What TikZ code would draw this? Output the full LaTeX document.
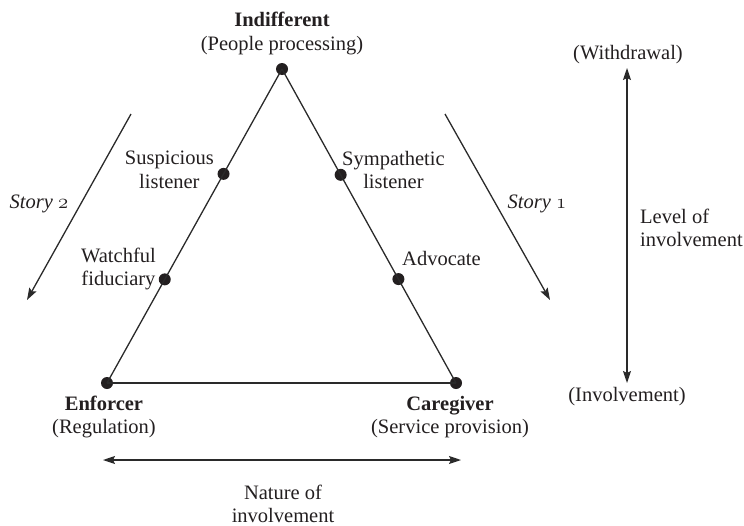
\documentclass[tikz,border=0pt]{standalone}
\usepackage{fontspec}
\setmainfont{Liberation Serif}
\usetikzlibrary{calc,arrows.meta}
\definecolor{ink}{HTML}{231F20}
\definecolor{linegray}{HTML}{2A2A2A}
% old-style figures taken from the math italic font
\newcommand{\osnum}[1]{{\usefont{OML}{cmm}{m}{it}#1}}
\begin{document}
\begin{tikzpicture}[x=1pt,y=-1pt,
  txt/.style={inner sep=0pt,align=center,text=ink,font=\fontsize{20.5}{23.5}\selectfont},
  dot/.style={circle,fill=ink,draw=none,minimum size=12pt,inner sep=0pt},
  edge/.style={draw=linegray,line width=1.3pt},
  arr/.style={draw=linegray,line width=1.3pt,-{Stealth[length=12pt,width=8pt,inset=2pt]}},
  dblarr/.style={draw=linegray,line width=1.3pt,{Stealth[length=12pt,width=8pt,inset=2pt]}-{Stealth[length=12pt,width=8pt,inset=2pt]}}]
\useasboundingbox (0,0) rectangle (744,525);

% corners of the triangle
\node[dot] (top) at (282,69) {};
\node[dot] (enf) at (107,383) {};
\node[dot] (care) at (456,383) {};

% intermediate roles on the two sides
\node[dot] (susp) at ($(top)!0.334!(enf)$) {};
\node[dot] (watch) at ($(top)!0.67!(enf)$) {};
\node[dot] (symp) at ($(top)!0.337!(care)$) {};
\node[dot] (advo) at ($(top)!0.669!(care)$) {};

% sides of the triangle
\draw[edge] (top.center) -- (susp.center) -- (watch.center) -- (enf.center);
\draw[edge] (top.center) -- (symp.center) -- (advo.center) -- (care.center);
\draw[edge] (enf.center) -- (care.center);

% labels of the roles
\node[txt] (ltop) at (282,33.5) {\textbf{Indifferent}\\(People processing)};
\node[txt,anchor=east] (lsusp) at (214,170) {Suspicious\\listener};
\node[txt,anchor=east] (lwatch) at (156,269) {Watchful\\fiduciary};
\node[txt,anchor=west] (lsymp) at (342,170) {Sympathetic\\listener};
\node[txt,anchor=west] (ladvo) at (402,258) {Advocate};
\node[txt] (lenf) at (104,417) {\textbf{Enforcer}\\(Regulation)};
\node[txt] (lcare) at (450,417) {\textbf{Caregiver}\\(Service provision)};

% the two stories
\coordinate (s2a) at (131,114);
\coordinate (s2b) at (27,300);
\draw[arr] (s2a) -- (s2b);
\node[txt] (lstory2) at (39,204) {\textit{Story \osnum{2}}};
\coordinate (s1a) at (445,114);
\coordinate (s1b) at (550,300);
\draw[arr] (s1a) -- (s1b);
\node[txt] (lstory1) at (537,204) {\textit{Story \osnum{1}}};

% level of involvement
\node[txt] (lwith) at (628,55) {(Withdrawal)};
\node[txt] (linv) at (627,397) {(Involvement)};
\coordinate (va) at (627,68);
\coordinate (vb) at (627,383);
\draw[dblarr] (va) -- (vb);
\node[txt,anchor=west,align=left] (llevel) at (640,228) {Level of\\involvement};

% nature of involvement
\coordinate (ha) at (103,460);
\coordinate (hb) at (461,460);
\draw[dblarr] (ha) -- (hb);
\node[txt] (lnature) at (283,504) {Nature of\\involvement};
\end{tikzpicture}
\end{document}
